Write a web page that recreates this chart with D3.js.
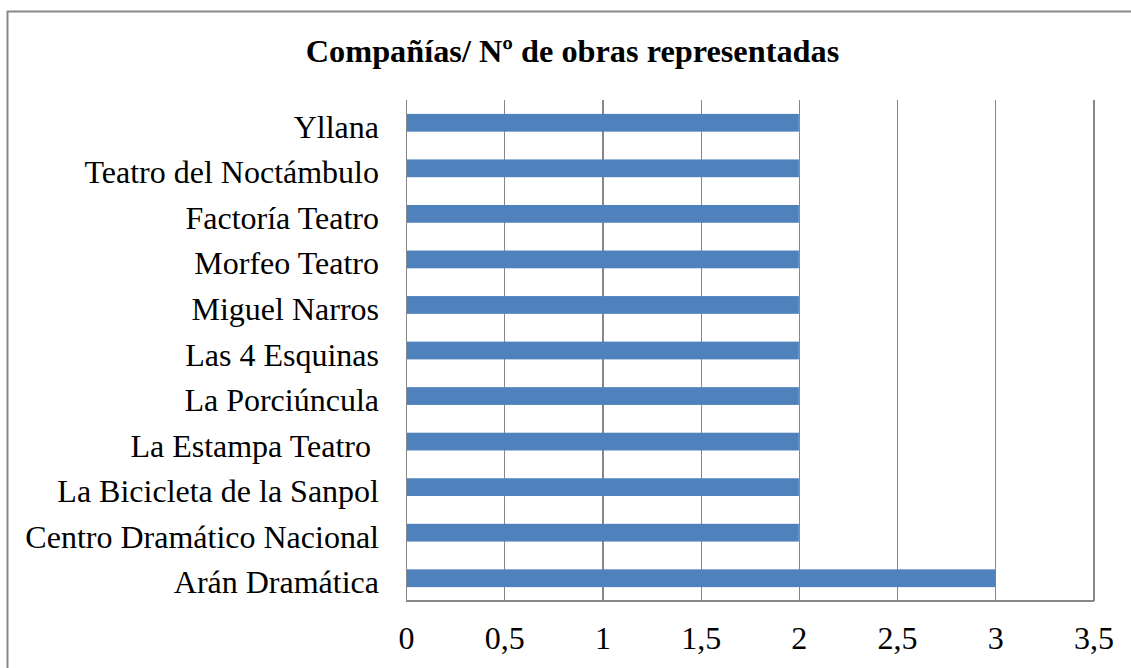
<!DOCTYPE html>
<html>
<head>
<meta charset="utf-8">
<script src="https://cdn.jsdelivr.net/npm/d3@7/dist/d3.min.js"></script>
<style>
  html, body { margin: 0; padding: 0; background: #fff; }
  svg { display: block; }
  text { font-family: "Liberation Serif", "Times New Roman", serif; fill: #000; }
</style>
</head>
<body>
<svg id="chart" width="1131" height="668"></svg>
<script>
const title = "Compañías/ Nº de obras representadas";
const categories = [
  "Yllana",
  "Teatro del Noctámbulo",
  "Factoría Teatro",
  "Morfeo Teatro",
  "Miguel Narros",
  "Las 4 Esquinas",
  "La Porciúncula",
  "La Estampa Teatro ",
  "La Bicicleta de la Sanpol",
  "Centro Dramático Nacional",
  "Arán Dramática"
];
const values = [2, 2, 2, 2, 2, 2, 2, 2, 2, 2, 3];
const tickValues = [0, 0.5, 1, 1.5, 2, 2.5, 3, 3.5];
const tickLabels = ["0", "0,5", "1", "1,5", "2", "2,5", "3", "3,5"];

const svg = d3.select("#chart");
const W = 1131, H = 668;
const plot = { left: 406, right: 1093.5, top: 100, bottom: 601 };
const grey = "#878787";

// outer border
svg.append("rect")
  .attr("x", 7.5).attr("y", 11.5)
  .attr("width", W + 20).attr("height", H + 20)
  .attr("fill", "#fff").attr("stroke", grey).attr("stroke-width", 2);

// title
svg.append("text")
  .attr("x", 572.5).attr("y", 61.5)
  .attr("text-anchor", "middle")
  .style("font-size", "32.3px").style("font-weight", "bold")
  .text(title);

const x = d3.scaleLinear().domain([0, 3.5]).range([plot.left, plot.right]);
const y = d3.scaleBand().domain(categories).range([plot.top, plot.bottom])
  .paddingInner(0.61).paddingOuter(0.305);

// gridlines + x tick labels
const xAxis = d3.axisBottom(x).tickValues(tickValues)
  .tickSize(-(plot.bottom - plot.top))
  .tickFormat((d, i) => tickLabels[i]);
const gx = svg.append("g")
  .attr("transform", `translate(0,${plot.bottom})`)
  .call(xAxis);
gx.select(".domain").remove();
gx.selectAll(".tick line").attr("stroke", grey).attr("stroke-width", 1.2)
  .attr("shape-rendering", "crispEdges");
gx.selectAll(".tick text")
  .attr("y", 48).attr("dy", 0)
  .style("font-size", "32px")
  .attr("font-family", "Liberation Serif");

// bottom axis line
svg.append("line")
  .attr("x1", plot.left).attr("x2", plot.right)
  .attr("y1", plot.bottom).attr("y2", plot.bottom)
  .attr("stroke", grey).attr("stroke-width", 1.2).attr("shape-rendering", "crispEdges");

// bars
svg.append("g").selectAll("rect")
  .data(categories)
  .join("rect")
  .attr("x", x(0) + 1)
  .attr("y", d => y(d))
  .attr("width", (d, i) => x(values[i]) - x(0) - 1)
  .attr("height", y.bandwidth())
  .attr("fill", "#4F81BD");

// category axis
const yAxis = d3.axisLeft(y).tickSize(0).tickPadding(27);
const gy = svg.append("g")
  .attr("transform", `translate(${plot.left},0)`)
  .call(yAxis);
gy.select(".domain").attr("stroke", grey).attr("stroke-width", 1.2)
  .attr("shape-rendering", "crispEdges");
gy.selectAll(".tick text")
  .attr("dy", 0).attr("y", 15)
  .style("font-size", "32px")
  .style("white-space", "pre")
  .attr("xml:space", "preserve")
  .attr("font-family", "Liberation Serif");
</script>
</body>
</html>
